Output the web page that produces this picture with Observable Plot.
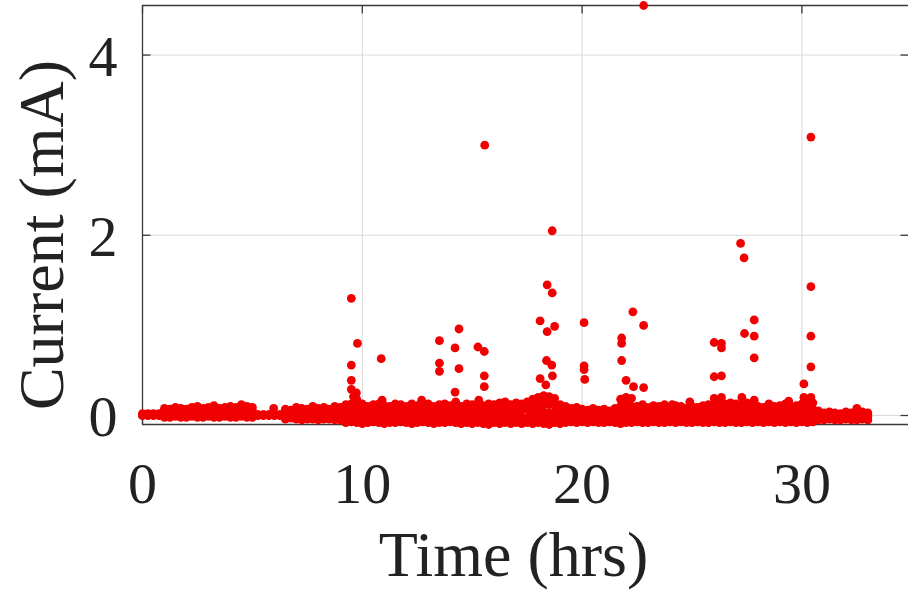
<!DOCTYPE html>
<html><head><meta charset="utf-8">
<script src="https://cdn.jsdelivr.net/npm/d3@7"></script>
<script src="https://cdn.jsdelivr.net/npm/@observablehq/plot@0.6"></script>
<style>body{margin:0;background:#fff;} #chart svg{display:block;}</style>
</head><body><div id="chart"></div>
<script>
// ---- axis ticks ----
const xTicks = [0, 10, 20, 30];
const yTicks = [0, 2, 4];
const xDomain = [0, 34.85];
const yDomain = [-0.1, 4.55];

// ---- dense band near zero (time in hrs, rows of current in mA) ----
const bandTime = [0,0.25,0.5,0.75,1,1.25,1.5,1.75,2,2.25,
2.5,2.75,3,3.25,3.5,3.75,4,4.25,4.5,4.75,
5,5.25,5.5,5.75,6,6.25,6.5,6.75,7,7.25,
7.5,7.75,8,8.25,8.5,8.75,9,9.25,9.5,9.75,
10,10.25,10.5,10.75,11,11.25,11.5,11.75,12,12.25,
12.5,12.75,13,13.25,13.5,13.75,14,14.25,14.5,14.75,
15,15.25,15.5,15.75,16,16.25,16.5,16.75,17,17.25,
17.5,17.75,18,18.25,18.5,18.75,19,19.25,19.5,19.75,
20,20.25,20.5,20.75,21,21.25,21.5,21.75,22,22.25,
22.5,22.75,23,23.25,23.5,23.75,24,24.25,24.5,24.75,
25,25.25,25.5,25.75,26,26.25,26.5,26.75,27,27.25,
27.5,27.75,28,28.25,28.5,28.75,29,29.25,29.5,29.75,
30,30.25,30.5,30.75,31,31.25,31.5,31.75,32,32.25,
32.5,32.75,33];
const bandHi = [0.02,0.02,0.02,0.02,0.08,0.07,0.09,0.08,0.07,0.09,
0.10,0.08,0.09,0.11,0.08,0.09,0.10,0.09,0.12,0.10,
0.09,0.01,0.01,0.01,0.01,0.01,0.07,0.06,0.09,0.08,
0.07,0.10,0.08,0.09,0.07,0.10,0.09,0.12,0.13,0.11,
0.13,0.10,0.12,0.13,0.11,0.10,0.13,0.12,0.10,0.13,
0.11,0.12,0.13,0.10,0.12,0.13,0.11,0.12,0.10,0.13,
0.12,0.13,0.11,0.13,0.12,0.14,0.13,0.12,0.14,0.13,
0.15,0.18,0.20,0.22,0.21,0.19,0.12,0.10,0.08,0.09,
0.07,0.06,0.08,0.06,0.07,0.05,0.08,0.18,0.20,0.19,
0.10,0.12,0.09,0.11,0.10,0.12,0.09,0.11,0.10,0.08,
0.10,0.09,0.11,0.12,0.10,0.09,0.13,0.14,0.13,0.12,
0.14,0.11,0.10,0.09,0.12,0.10,0.11,0.13,0.10,0.11,
0.13,0.13,0.14,0.05,0.03,0.04,0.03,0.02,0.04,0.03,
0.05,0.04,0.03];
const bandUp = [0.01,0.01,0.01,0.01,0.05,0.04,0.05,0.04,0.05,0.05,
0.04,0.05,0.05,0.04,0.05,0.04,0.05,0.05,0.06,0.05,
0.05,0.01,0.01,0.01,0.01,0.01,0.03,0.03,0.04,0.03,
0.03,0.04,0.03,0.04,0.03,0.04,0.04,0.05,0.06,0.05,
0.05,0.04,0.06,0.05,0.05,0.04,0.06,0.05,0.04,0.05,
0.05,0.06,0.05,0.04,0.05,0.06,0.05,0.05,0.04,0.06,
0.05,0.06,0.05,0.05,0.06,0.05,0.06,0.05,0.06,0.06,
0.07,0.10,0.11,0.12,0.12,0.11,0.06,0.05,0.04,0.04,
0.03,0.03,0.04,0.03,0.03,0.02,0.04,0.10,0.11,0.10,
0.05,0.06,0.04,0.05,0.05,0.06,0.04,0.05,0.05,0.04,
0.05,0.04,0.05,0.06,0.05,0.04,0.06,0.07,0.06,0.05,
0.07,0.05,0.05,0.04,0.05,0.05,0.05,0.06,0.05,0.05,
0.06,0.06,0.07,0.02,0.01,0.01,0.01,0.01,0.01,0.01,
0.02,0.01,0.01];
const bandDown = [0.00,0.00,0.00,0.00,0.01,0.01,0.00,0.01,0.01,0.00,
0.01,0.01,0.00,0.01,0.01,0.00,0.01,0.01,0.00,0.01,
0.01,0.00,0.00,0.00,0.00,0.00,-0.01,0.00,-0.01,-0.01,
0.00,-0.01,-0.01,0.00,-0.01,-0.01,-0.01,-0.02,-0.02,-0.01,
-0.02,-0.02,-0.01,-0.02,-0.02,-0.03,-0.02,-0.02,-0.01,-0.02,
-0.02,-0.01,-0.02,-0.03,-0.02,-0.02,-0.02,-0.01,-0.02,-0.02,
-0.02,-0.03,-0.02,-0.02,-0.01,-0.02,-0.02,-0.03,-0.02,-0.02,
-0.02,0.03,0.03,0.04,0.03,0.03,-0.02,-0.02,-0.02,-0.01,
-0.02,-0.02,-0.01,-0.02,-0.02,-0.02,-0.01,0.03,0.03,0.03,
-0.02,-0.02,-0.01,-0.02,-0.02,-0.01,-0.02,-0.02,-0.01,-0.02,
-0.02,-0.01,-0.02,-0.02,-0.02,-0.01,-0.02,-0.01,-0.02,-0.02,
-0.01,-0.02,-0.02,-0.01,-0.02,-0.02,-0.01,-0.02,-0.02,-0.01,
-0.02,-0.02,-0.01,-0.02,-0.02,-0.01,-0.02,-0.02,-0.01,-0.02,
-0.02,-0.02,-0.01];
const bandLo = [0.00,0.00,0.00,0.00,-0.02,-0.02,-0.01,-0.02,-0.02,-0.01,
-0.02,-0.02,-0.01,-0.02,-0.02,-0.01,-0.02,-0.02,-0.01,-0.02,
-0.02,0.00,0.00,0.00,0.00,0.00,-0.04,-0.03,-0.04,-0.05,
-0.04,-0.04,-0.05,-0.04,-0.04,-0.05,-0.05,-0.08,-0.07,-0.08,
-0.09,-0.08,-0.07,-0.08,-0.09,-0.08,-0.08,-0.07,-0.08,-0.09,
-0.08,-0.07,-0.08,-0.09,-0.08,-0.08,-0.07,-0.08,-0.09,-0.08,
-0.09,-0.08,-0.09,-0.10,-0.08,-0.09,-0.08,-0.09,-0.08,-0.09,
-0.08,-0.09,-0.08,-0.09,-0.10,-0.08,-0.09,-0.08,-0.07,-0.08,
-0.07,-0.08,-0.07,-0.08,-0.08,-0.07,-0.08,-0.09,-0.08,-0.08,
-0.07,-0.08,-0.08,-0.07,-0.08,-0.08,-0.07,-0.08,-0.07,-0.08,
-0.08,-0.07,-0.08,-0.08,-0.07,-0.08,-0.08,-0.07,-0.08,-0.08,
-0.07,-0.08,-0.07,-0.08,-0.07,-0.08,-0.07,-0.08,-0.07,-0.08,
-0.07,-0.08,-0.07,-0.05,-0.05,-0.04,-0.05,-0.05,-0.04,-0.05,
-0.05,-0.04,-0.05];

// ---- scattered points just above / inside the band ----
const nearTime = [5.97,9.6,9.75,10.9,12.7,14.25,15.3,16.5,18.0,18.3,18.6,21.9,22.1,24.1,24.9,26.0,26.3,27.3,27.8,28.5,29.4,30.1,30.4,32.5,
17.75,18.0,18.25,18.5,18.75,21.75,22.0,22.25];
const nearCurrent = [0.08,0.21,0.18,0.17,0.17,0.15,0.17,0.15,0.14,0.16,0.15,0.13,0.12,0.12,0.15,0.12,0.13,0.12,0.12,0.13,0.16,0.13,0.13,0.08,
-0.03,-0.03,-0.03,-0.04,-0.03,-0.03,-0.03,-0.03];

// ---- current spikes ----
const spikeTime = [22.8,30.41,15.57,18.64,27.21,27.37,18.41,30.41,18.64,9.50,
22.31,27.83,18.09,20.09,22.80,18.75,14.40,18.41,27.39,30.41,
27.83,21.80,13.51,26.01,9.78,21.80,26.34,15.26,14.22,26.34,
15.55,27.83,10.86,18.38,21.80,13.51,9.50,18.62,20.09,30.41,
20.09,14.40,13.51,15.55,18.65,26.34,26.01,18.09,20.12,22.00,
9.50,30.09,18.35,15.55,22.34,22.80,9.50,14.22,9.73,30.09,
30.41,26.34,27.27,26.01,27.83];
const spikeCurrent = [4.55,3.09,3.00,2.05,1.91,1.75,1.45,1.43,1.36,1.30,
1.15,1.06,1.05,1.03,1.00,0.99,0.96,0.93,0.91,0.88,
0.88,0.86,0.83,0.81,0.80,0.80,0.80,0.76,0.75,0.75,
0.71,0.64,0.63,0.61,0.61,0.58,0.56,0.56,0.55,0.54,
0.51,0.52,0.49,0.44,0.44,0.44,0.43,0.41,0.40,0.39,
0.39,0.35,0.34,0.32,0.32,0.31,0.29,0.26,0.25,0.20,
0.20,0.20,0.20,0.19,0.17];

const points = [];
bandTime.forEach((t, i) => {
  points.push({t, c: bandLo[i]}, {t, c: bandDown[i]}, {t, c: bandUp[i]}, {t, c: bandHi[i]});
});
nearTime.forEach((t, i) => points.push({t, c: nearCurrent[i]}));
spikeTime.forEach((t, i) => points.push({t, c: spikeCurrent[i]}));

const serif = "'Liberation Serif', 'Times New Roman', Times, serif";
const axisColor = "#3a3a3a";
const T = 8;
const tickUp = {draw(c){ c.moveTo(0,0); c.lineTo(0,-T); }};
const tickDown = {draw(c){ c.moveTo(0,0); c.lineTo(0,T); }};
const tickRight = {draw(c){ c.moveTo(0,0); c.lineTo(T,0); }};
const tickLeft = {draw(c){ c.moveTo(0,0); c.lineTo(-T,0); }};

const chart = Plot.plot({
  width: 908,
  height: 590,
  marginLeft: 142,
  marginRight: 0,
  marginTop: 5,
  marginBottom: 166,
  style: {background: "#fff", fontFamily: serif, overflow: "visible"},
  x: {domain: xDomain, axis: null},
  y: {domain: yDomain, axis: null},
  marks: [
    Plot.ruleX(xTicks.slice(1), {stroke: "#d9d9d9", strokeWidth: 1}),
    Plot.ruleY(yTicks, {stroke: "#d9d9d9", strokeWidth: 1}),
    Plot.ruleY([yDomain[0], yDomain[1]], {stroke: axisColor, strokeWidth: 1.3}),
    Plot.ruleX([xDomain[0]], {stroke: axisColor, strokeWidth: 1.3}),
    Plot.dot(xTicks, {x: d => d, y: () => yDomain[0], symbol: tickUp, stroke: axisColor, strokeWidth: 1.3, fill: "none"}),
    Plot.dot(xTicks, {x: d => d, y: () => yDomain[1], symbol: tickDown, stroke: axisColor, strokeWidth: 1.3, fill: "none"}),
    Plot.dot(yTicks, {y: d => d, x: () => xDomain[0], symbol: tickRight, stroke: axisColor, strokeWidth: 1.3, fill: "none"}),
    Plot.dot(yTicks, {y: d => d, x: () => xDomain[1], symbol: tickLeft, stroke: axisColor, strokeWidth: 1.3, fill: "none"}),
    Plot.dot(points, {x: "t", y: "c", r: 4.4, fill: "#f00000", stroke: "none"}),
    Plot.text(xTicks, {x: d => d, frameAnchor: "bottom", text: d => String(d), dy: 78, textAnchor: "middle", lineAnchor: "bottom", fontSize: 58, fontFamily: serif, fill: "#222"}),
    Plot.text(yTicks, {y: d => d, frameAnchor: "left", text: d => String(d), dx: -25, dy: 2, textAnchor: "end", lineAnchor: "middle", fontSize: 58, fontFamily: serif, fill: "#222"}),
    Plot.text(["Time (hrs)"], {frameAnchor: "bottom", text: d => d, dy: 151, dx: -12, textAnchor: "middle", lineAnchor: "bottom", fontSize: 64, fontFamily: serif, fill: "#222"}),
    Plot.text(["Current (mA)"], {frameAnchor: "left", text: d => d, rotate: -90, dx: -80, dy: 20, textAnchor: "middle", lineAnchor: "bottom", fontSize: 64, fontFamily: serif, fill: "#222"})
  ]
});
document.getElementById("chart").appendChild(chart);
</script>
</body></html>
